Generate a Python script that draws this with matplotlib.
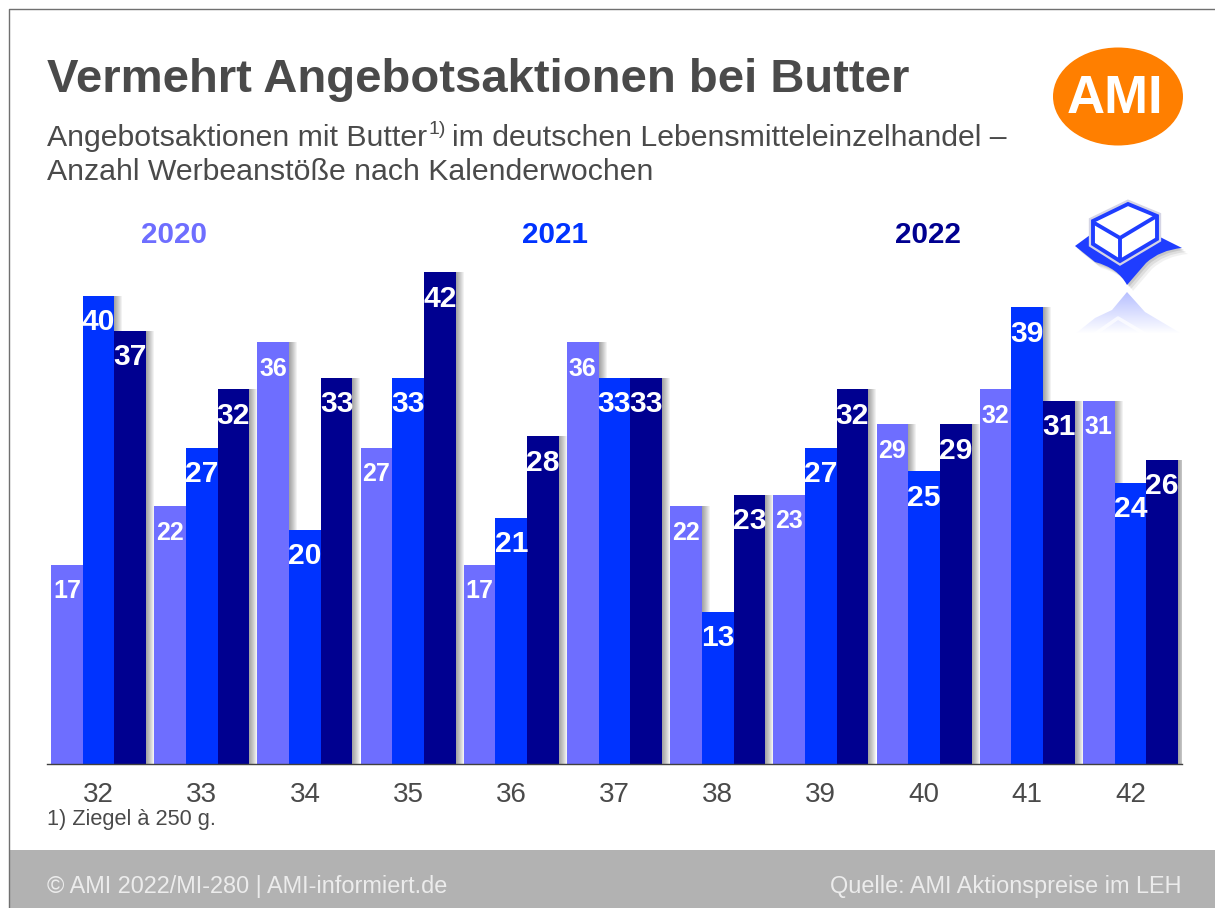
import numpy as np
import matplotlib
matplotlib.use("Agg")
import matplotlib.pyplot as plt
from matplotlib.path import Path
from matplotlib.patches import Ellipse, Polygon, Rectangle, PathPatch
from matplotlib.transforms import Affine2D

plt.rcParams['font.family'] = ['Liberation Sans', 'DejaVu Sans']

weeks = ["32", "33", "34", "35", "36", "37", "38", "39", "40", "41", "42"]
years = ["2020", "2021", "2022"]
values_2020 = [17, 22, 36, 27, 17, 36, 22, 23, 29, 32, 31]
values_2021 = [40, 27, 20, 33, 21, 33, 13, 27, 25, 39, 24]
values_2022 = [37, 32, 33, 42, 28, 33, 23, 32, 29, 31, 26]

C_LIGHT = "#6e6eff"
C_MID = "#0033ff"
C_DARK = "#000090"
C_TEXT = "#4a4a4a"
W, H = 1215, 908

fig = plt.figure(figsize=(W / 100, H / 100), dpi=100, facecolor="white")

# overlay in pixel coordinates for frame, texts and logo
bg = fig.add_axes([0, 0, 1, 1], zorder=0)
bg.axis("off")

bg.plot([9, 9, W], [H, 8.5, 8.5], color="#707070", lw=1)
bg.add_patch(Rectangle((9.5, 850), W - 9, H - 850, color="#b2b2b2", lw=0))

bg.text(47, 80, "Vermehrt Angebotsaktionen bei Butter", fontsize=34, fontweight="bold",
        color=C_TEXT, va="center", ha="left")
bg.text(47, 138, "Angebotsaktionen mit Butter", fontsize=21.8, color=C_TEXT, va="center")
bg.text(429, 130, "1)", fontsize=14, color=C_TEXT, va="center")
bg.text(452, 138, "im deutschen Lebensmitteleinzelhandel –", fontsize=21.8, color=C_TEXT, va="center")
bg.text(47, 172, "Anzahl Werbeanstöße nach Kalenderwochen", fontsize=21.8, color=C_TEXT, va="center")

bg.text(47, 819, "1) Ziegel à 250 g.", fontsize=15.7, color=C_TEXT, va="center")
bg.text(47, 886, "© AMI 2022/MI-280 | AMI-informiert.de", fontsize=16.9, color="#ececec", va="center")
bg.text(1182, 886, "Quelle: AMI Aktionspreise im LEH", fontsize=16.9, color="#ececec", va="center", ha="right")

# logo
bg.add_patch(Ellipse((1118, 96.5), 130, 98, color="#ff7f00", lw=0))
bg.text(1115, 99, "AMI", fontsize=38, fontweight="bold", color="white", ha="center", va="center")

# butter icon
cloth = Path([(1075, 246), (1090, 235), (1120, 257), (1158, 236), (1182, 248),
              (1160, 250), (1146, 263), (1127, 285), (1118, 268), (1095, 262), (1075, 246)],
             [Path.MOVETO, Path.LINETO, Path.LINETO, Path.LINETO, Path.LINETO,
              Path.CURVE3, Path.CURVE3, Path.LINETO, Path.CURVE3, Path.CURVE3, Path.LINETO])
for o, a in ((6, 0.08), (4, 0.12), (2, 0.16)):
    bg.add_patch(PathPatch(cloth, fc="#555555", ec="none", alpha=a, zorder=2,
                           transform=Affine2D().translate(o, o) + bg.transData))
bg.add_patch(PathPatch(cloth, fc="#1f3dff", ec="none", zorder=3))
box = [(1128, 204), (1157, 216), (1157, 239), (1120, 261), (1093, 244), (1093, 221)]
bg.add_patch(Polygon(box, closed=True, fc="white", ec="#d5d5e5", lw=6, zorder=4))
bg.add_patch(Polygon(box, closed=True, fc="white", ec="#1f3dff", lw=2.8, zorder=5))
bg.plot([1096, 1120, 1155], [224, 238, 217], color="#1f3dff", lw=2.8, zorder=6)
bg.plot([1120, 1120], [238, 258], color="#1f3dff", lw=2.8, zorder=6)

# faded reflection under the icon
rgba = np.zeros((64, 1, 4))
rgba[..., :3] = matplotlib.colors.to_rgb("#6f80ff")
rgba[..., 3] = np.linspace(0.5, 0.0, 64).reshape(-1, 1)
im = bg.imshow(rgba, extent=(1075, 1182, 334, 292), aspect="auto", zorder=3)
refl = Polygon([(1075, 334), (1095, 318), (1112, 310), (1127, 292), (1145, 312), (1182, 334)],
               closed=True, fc="none", ec="none")
bg.add_patch(refl)
im.set_clip_path(refl)
bg.plot([1095, 1118, 1145], [334, 318, 334], color="white", lw=2.5, alpha=0.7, zorder=4)
bg.set_xlim(0, W)
bg.set_ylim(H, 0)

# the chart itself
ax = fig.add_axes([47 / W, 1 - 764 / H, (1182 - 47) / W, (764 - 250) / H], zorder=1)
ax.patch.set_alpha(0)
x = np.arange(len(weeks))
bw = 0.307
px = 11.0 / (1182 - 47)  # one pixel in x data units

series = [(values_2020, C_LIGHT, -bw, 25), (values_2021, C_MID, 0, 30), (values_2022, C_DARK, bw, 30)]
for vals, col, off, fs in series:
    # soft shadow to the right, built from thin offset copies below all bars
    for o in range(1, 9):
        ax.bar(x + off + o * px, vals, width=bw, color="black", alpha=0.05, lw=0, zorder=1)
    ax.bar(x + off, vals, width=bw, color=col, lw=0, zorder=2)
    for xi, v in zip(x, vals):
        ax.annotate(str(v), (xi + off, v), xytext=(0, -19), textcoords="offset points",
                    ha="center", va="center", color="white", fontsize=fs * 0.72,
                    fontweight="bold", zorder=5)

ax.set_xlim(-0.5, 10.5)
ax.set_ylim(0, 514 / 11.71)
ax.set_xticks(x)
ax.set_xticklabels(weeks, fontsize=20, color=C_TEXT)
ax.tick_params(axis="x", length=0, pad=13)
ax.set_yticks([])
for s in ("top", "left", "right"):
    ax.spines[s].set_visible(False)
ax.spines["bottom"].set_color("#404040")
ax.spines["bottom"].set_linewidth(1)
ax.spines["bottom"].set_zorder(3)

for yr, xp, col in zip(years, [174, 555, 928], [C_LIGHT, C_MID, C_DARK]):
    bg.text(xp, 235, yr, fontsize=21.3, fontweight="bold", color=col, ha="center", va="center")

fig.savefig("out.png", dpi=100)
